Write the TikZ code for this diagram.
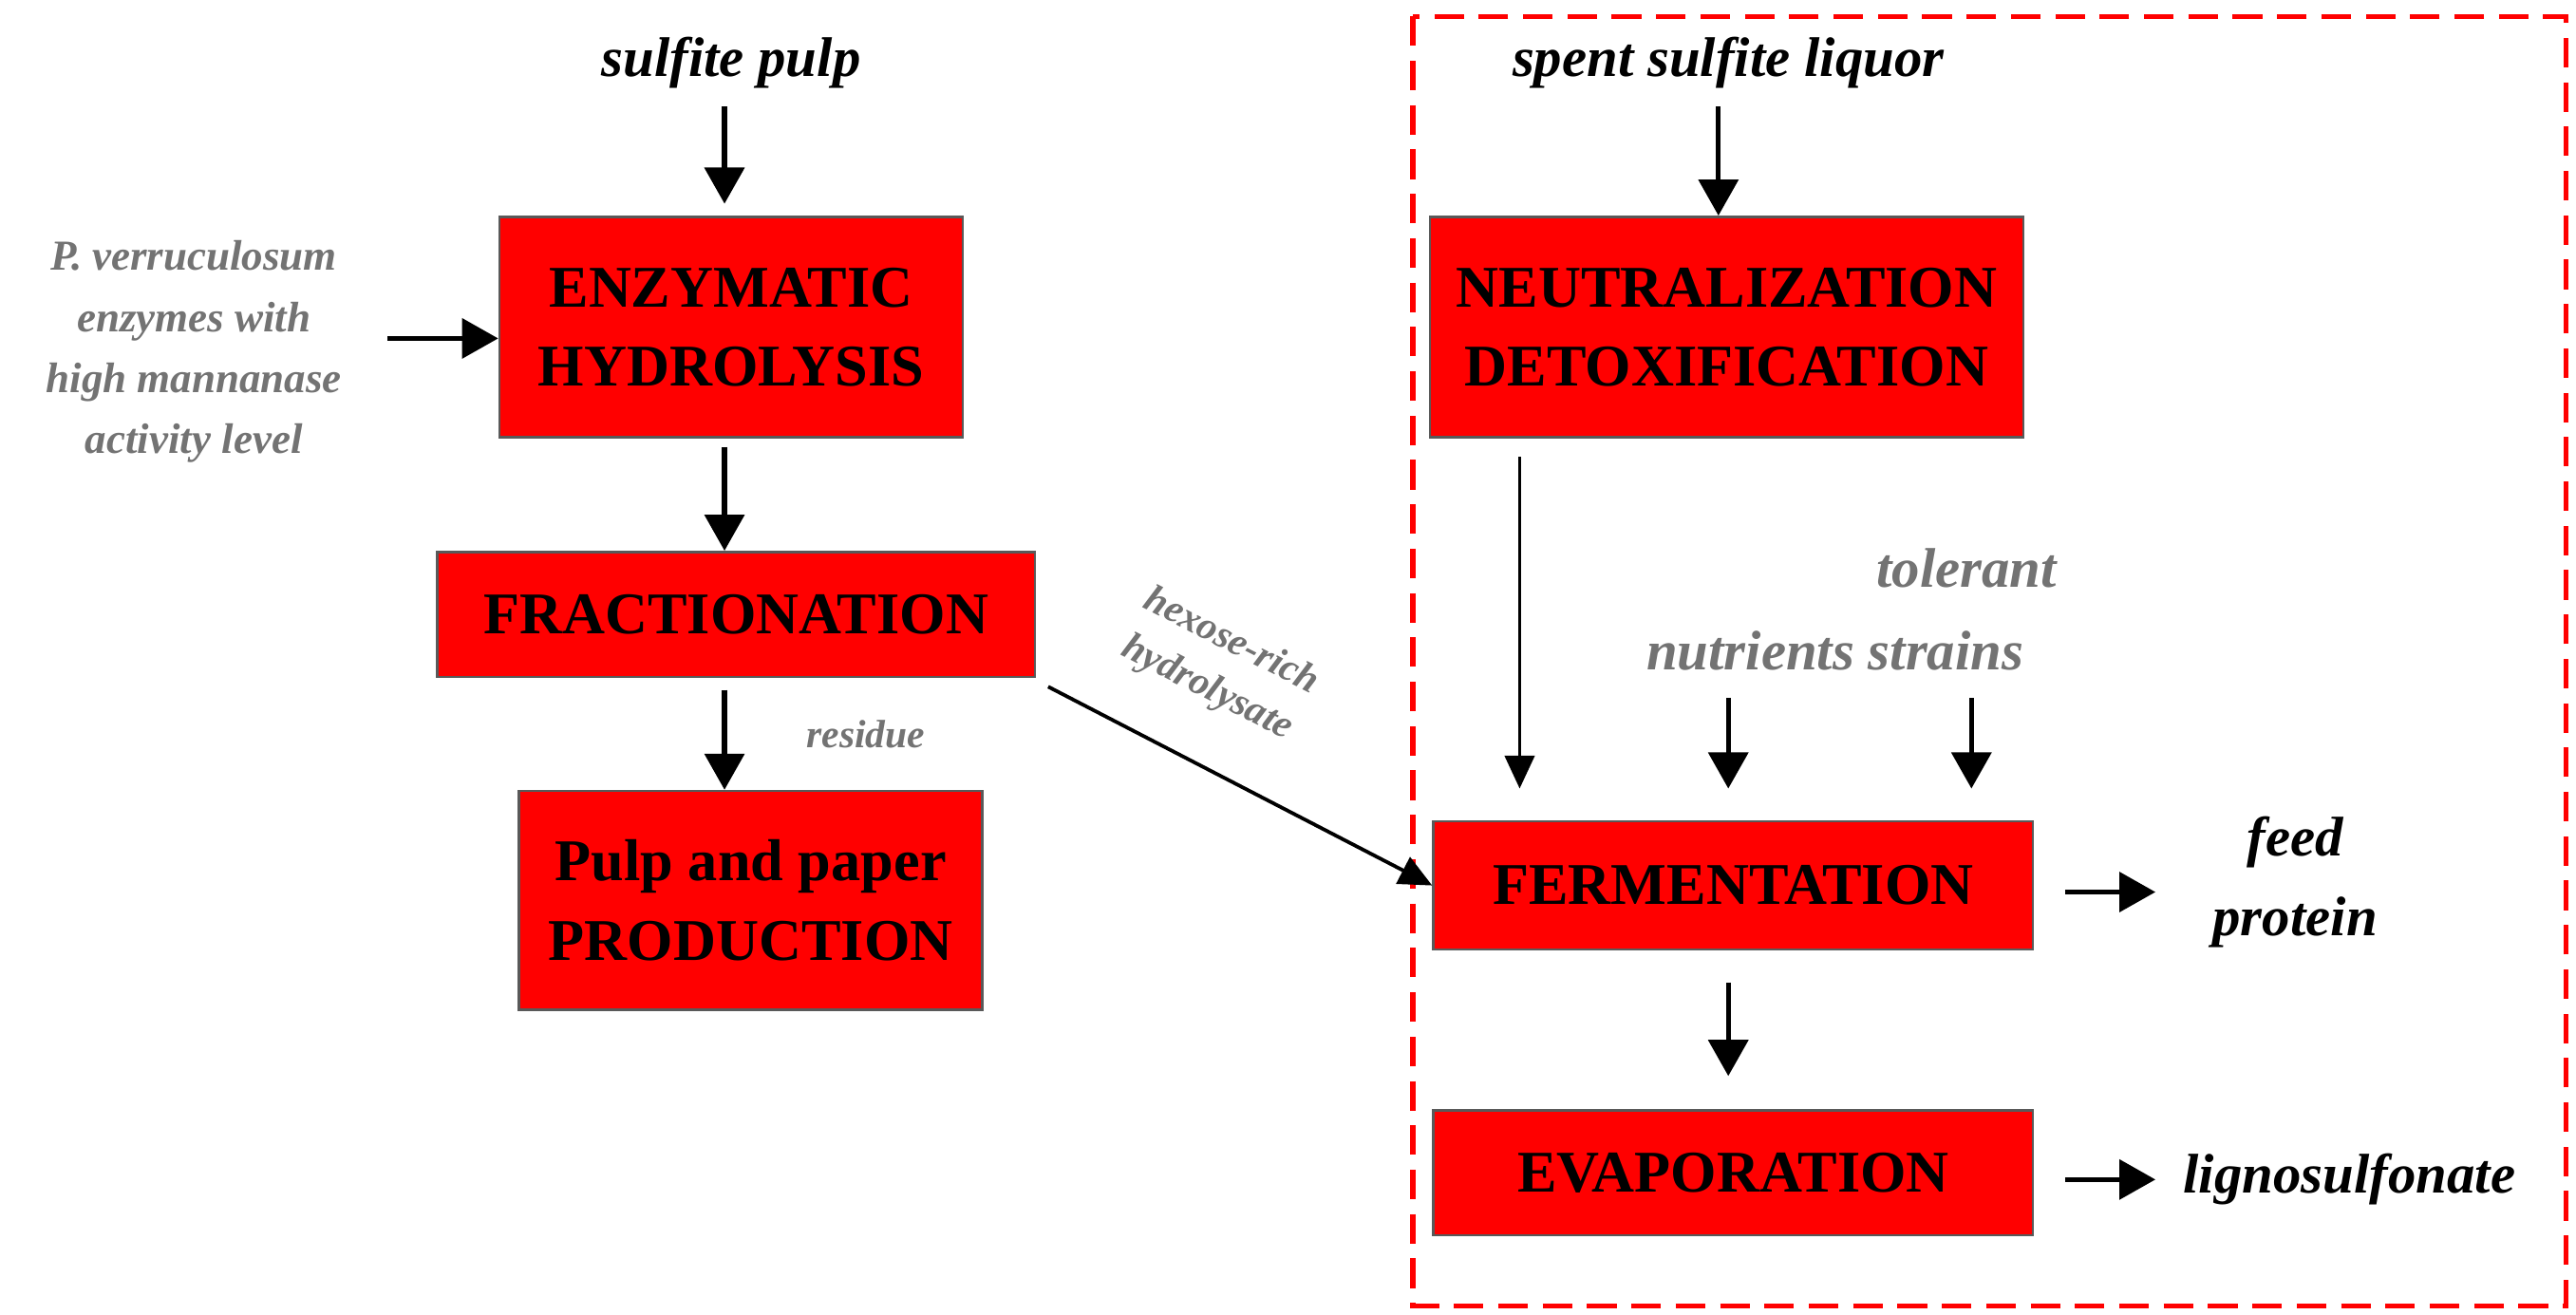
\documentclass[tikz,border=0pt]{standalone}
\usepackage{fontspec}
\setmainfont{Liberation Serif}
\usetikzlibrary{arrows.meta}
\begin{document}
\begin{tikzpicture}[x=1pt,y=-1pt,
 box/.style={draw=black!65,line width=1.5pt,fill=red,font=\fontsize{36}{48}\selectfont\bfseries,align=center,inner sep=0pt},
 lbl/.style={font=\fontsize{34}{38}\selectfont\bfseries\itshape},
 glbl/.style={text=black!55,align=center},
 arr/.style={line width=3pt,-{Triangle[length=22pt,width=24pt]}},
 thin/.style={line width=2.2pt,-{Triangle[length=20pt,width=18pt]}}]
\useasboundingbox (0,0) rectangle (1568,800);
\draw[red,line width=3pt,dash pattern=on 18pt off 9pt] (860,10) rectangle (1562,795);
\node[box,minimum width=282pt,minimum height=134pt] (enz) at (445,199) {ENZYMATIC\\HYDROLYSIS};
\node[box,minimum width=364pt,minimum height=76pt] (fra) at (448,374) {FRACTIONATION};
\node[box,minimum width=282pt,minimum height=133pt] (pulp) at (457,548) {Pulp and paper\\PRODUCTION};
\node[box,minimum width=361pt,minimum height=134pt] (neu) at (1051,199) {NEUTRALIZATION\\DETOXIFICATION};
\node[box,minimum width=365pt,minimum height=78pt] (fer) at (1055,539) {FERMENTATION};
\node[box,minimum width=365pt,minimum height=76pt] (eva) at (1055,714) {EVAPORATION};
\node[lbl] (sp) at (445,38) {sulfite pulp};
\node[lbl] (ssl) at (1052,38) {spent sulfite liquor};
\node[glbl,font=\fontsize{26}{37}\selectfont\itshape\bfseries] (pv) at (118,214) {P. verruculosum\\enzymes with\\high mannanase\\activity level};
\node[glbl,font=\fontsize{24}{26}\selectfont\bfseries\itshape] (res) at (527,447) {residue};
\node[glbl,font=\fontsize{24}{32}\selectfont\bfseries\itshape,rotate=-27] (hex) at (742,405) {hexose-rich\\hydrolysate};
\node[glbl,font=\fontsize{34}{38}\selectfont\bfseries\itshape] (tol) at (1197,346) {tolerant};
\node[glbl,font=\fontsize{34}{38}\selectfont\bfseries\itshape] (nut) at (1117,396) {nutrients strains};
\node[lbl,align=center,font=\fontsize{34}{49}\selectfont\bfseries\itshape] (feed) at (1397,537) {feed\\protein};
\node[lbl] (lig) at (1430,718) {lignosulfonate};
\coordinate (a1) at (441,65); \coordinate (a2) at (236,206);
\coordinate (a3) at (1046,65);
\coordinate (n1) at (1052,425); \coordinate (n2) at (1200,425);
\coordinate (f1) at (1257,543); \coordinate (f2) at (1312,543);
\coordinate (l1) at (1257,718); \coordinate (l2) at (1312,718);
\draw[arr] (a1) -- (441,124);
\draw[arr] (a2) -- (enz.west|-a2);
\draw[arr] (441,272) -- (fra.north-|441,0);
\draw[arr] (441,420) -- (pulp.north-|441,0);
\draw[arr] (a3) -- (neu.north-|1046,0);
\draw[thin] (638,418) -- (fer.west);
\draw[thin] (925,278) -- (925,480);
\draw[arr] (n1) -- (1052,480);
\draw[arr] (n2) -- (1200,480);
\draw[arr] (f1) -- (f2);
\draw[arr] (1052,598) -- (1052,655);
\draw[arr] (l1) -- (l2);
\end{tikzpicture}
\end{document}
